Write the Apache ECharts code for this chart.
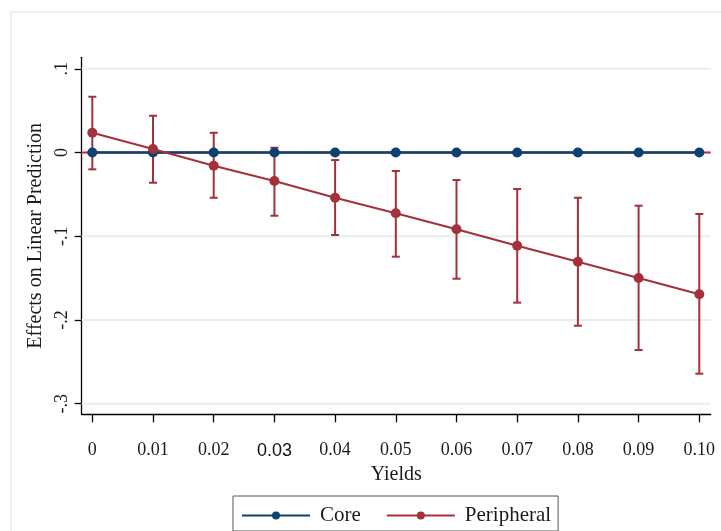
<!DOCTYPE html>
<html>
<head>
<meta charset="utf-8">
<script src="https://cdn.jsdelivr.net/npm/echarts@6/dist/echarts.min.js"></script>
<style>
html,body{margin:0;padding:0;background:#fff;}
#chart{width:721px;height:531px;}
</style>
</head>
<body>
<div id="chart"></div>
<script>
// ---- data ----
const xVals = [0, 0.01, 0.02, 0.03, 0.04, 0.05, 0.06, 0.07, 0.08, 0.09, 0.10];
const xLabels = ['0', '0.01', '0.02', '0.03', '0.04', '0.05', '0.06', '0.07', '0.08', '0.09', '0.10'];
const coreEst = [0, 0, 0, 0, 0, 0, 0, 0, 0, 0, 0];
const periphEst = [0.0236, 0.0042, -0.0158, -0.0340, -0.0540, -0.0726, -0.0917, -0.1113, -0.1304, -0.1499, -0.1693];
const periphLo = [-0.0201, -0.0361, -0.0540, -0.0755, -0.0985, -0.1244, -0.1507, -0.1793, -0.2068, -0.2358, -0.2641];
const periphHi = [0.0666, 0.0439, 0.0236, 0.0057, -0.0090, -0.0221, -0.0328, -0.0436, -0.0540, -0.0635, -0.0734];
const yTicks = [-0.3, -0.2, -0.1, 0, 0.1];
const yLabels = ['-.3', '-.2', '-.1', '0', '.1'];
const refLineValue = 0;
const seriesNames = ['Core', 'Peripheral'];

const X_MIN = -0.00175, X_MAX = 0.10188;
const Y_MIN = -0.3126, Y_MAX = 0.1137;

const CORE = '#0b426f';
const PERI = '#a3303a';
const SERIF = '"Liberation Serif", "Times New Roman", serif';

const chart = echarts.init(document.getElementById('chart'), null, {renderer: 'canvas'});

function errRender(color) {
  return function (params, api) {
    const x = api.value(0), lo = api.value(1), hi = api.value(2);
    const a = api.coord([x, hi]);
    const b = api.coord([x, lo]);
    const w = 4;
    const st = {stroke: color, lineWidth: 2};
    return {
      type: 'group',
      children: [
        {type: 'line', shape: {x1: a[0], y1: a[1], x2: b[0], y2: b[1]}, style: st},
        {type: 'line', shape: {x1: a[0] - w, y1: a[1], x2: a[0] + w, y2: a[1]}, style: st},
        {type: 'line', shape: {x1: b[0] - w, y1: b[1], x2: b[0] + w, y2: b[1]}, style: st}
      ]
    };
  };
}

const gridSeries = yTicks.map((v, k) => ({
  name: 'grid' + k, type: 'line', z: 0, silent: true, symbol: 'none',
  data: [[X_MIN, v], [X_MAX, v]],
  lineStyle: {color: '#e4eff0', width: 2}
}));

const option = {
  backgroundColor: '#ffffff',
  animation: false,
  textStyle: {fontFamily: SERIF},
  graphic: [{
    type: 'rect', silent: true, z: -10,
    shape: {x: 11, y: 12, width: 760, height: 560},
    style: {fill: 'none', stroke: '#e2eef0', lineWidth: 1.5}
  }],
  grid: {left: 81.7, right: 10.3, top: 57.3, bottom: 116.7, containLabel: false},
  legend: {
    data: seriesNames,
    left: 233, top: 496,
    orient: 'horizontal',
    itemWidth: 68, itemHeight: 10, itemGap: 25,
    padding: [9, 7, 5, 8],
    borderColor: '#555', borderWidth: 1,
    textStyle: {fontFamily: SERIF, fontSize: 21, color: '#1a1a1a', padding: [0, 0, 0, 5]}
  },
  xAxis: {
    type: 'value',
    min: X_MIN, max: X_MAX,
    name: 'Yields', nameLocation: 'middle', nameGap: 43,
    nameTextStyle: {fontFamily: SERIF, fontSize: 20, color: '#1a1a1a'},
    axisLine: {show: true, onZero: false, lineStyle: {color: '#000', width: 1.3}},
    axisTick: {show: true, length: 8, customValues: xVals, lineStyle: {color: '#000', width: 1.3}},
    axisLabel: {
      customValues: xVals, margin: 27,
      fontFamily: SERIF, fontSize: 18, color: '#1a1a1a',
      formatter: function (v) {
        const i = Math.round(v * 100);
        const s = xLabels[i];
        return i === 3 ? '{s|' + s + '}' : s;
      },
      rich: {s: {fontFamily: '"Liberation Sans", Arial, sans-serif', fontSize: 18, color: '#111', padding: [1, 0, 0, 0]}}
    },
    splitLine: {show: false}
  },
  yAxis: {
    type: 'value',
    min: Y_MIN, max: Y_MAX,
    name: 'Effects on Linear Prediction', nameLocation: 'middle', nameGap: 30,
    nameTextStyle: {fontFamily: SERIF, fontSize: 20, color: '#1a1a1a'},
    axisLine: {show: true, onZero: false, lineStyle: {color: '#000', width: 1.3}},
    axisTick: {show: true, length: 7, customValues: yTicks, lineStyle: {color: '#000', width: 1.3}},
    axisLabel: {
      customValues: yTicks, rotate: 90, margin: 10,
      fontFamily: SERIF, fontSize: 18, color: '#1a1a1a',
      formatter: function (v) {
        const i = Math.round((v + 0.3) * 10);
        return yLabels[i];
      }
    },
    splitLine: {show: false}
  },
  series: gridSeries.concat([
    {
      name: 'ref', type: 'line', z: 1, silent: true, symbol: 'none',
      data: [[X_MIN, refLineValue], [X_MAX, refLineValue]],
      lineStyle: {color: '#e3163c', width: 2}
    },
    {
      name: 'periphCI', type: 'custom', z: 2, silent: true,
      renderItem: errRender(PERI),
      encode: {x: 0, y: [1, 2]},
      data: xVals.map((x, i) => [x, periphLo[i], periphHi[i]])
    },
    {
      name: 'Core', type: 'line', z: 3,
      data: xVals.map((x, i) => [x, coreEst[i]]),
      symbol: 'circle', symbolSize: 10, showSymbol: true,
      lineStyle: {color: CORE, width: 2.5},
      itemStyle: {color: CORE}
    },
    {
      name: 'Peripheral', type: 'line', z: 4,
      data: xVals.map((x, i) => [x, periphEst[i]]),
      symbol: 'circle', symbolSize: 10, showSymbol: true,
      lineStyle: {color: PERI, width: 2},
      itemStyle: {color: PERI}
    }
  ])
};

chart.setOption(option);
</script>
</body>
</html>
